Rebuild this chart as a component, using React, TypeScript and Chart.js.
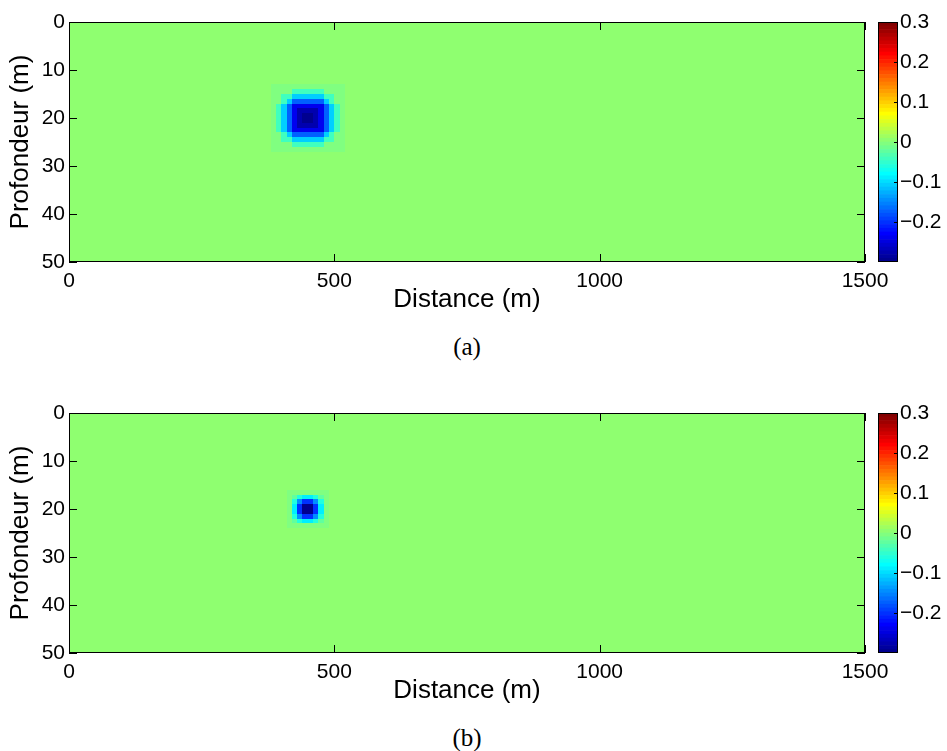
import React, { useEffect, useRef } from "react";
import { Chart, registerables } from "chart.js";

Chart.register(...registerables);

// ---------------- data ----------------
const X_TICKS = [0, 500, 1000, 1500];
const Z_TICKS = [0, 10, 20, 30, 40, 50];
const CBAR_TICKS = [-0.2, -0.1, 0, 0.1, 0.2, 0.3];
const C_MIN = -0.3;
const C_MAX = 0.3;
const X_RANGE = [0, 1500];
const Z_RANGE = [0, 50];
const FIELD_VALUE = 0; // homogeneous background value
const CELL_DX = 10; // m
const CELL_DZ = 1; // m

// (a) anomaly: cells start at x = 380 m, z = 13 m
const ANOM_A_X0 = 380;
const ANOM_A_Z0 = 13;
const ANOM_A = [
  [-0.006, -0.006, -0.006, -0.006, -0.006, -0.006, -0.006, -0.006, -0.006, -0.006, -0.006, -0.006, -0.006, -0.006],
  [-0.006, -0.006, -0.006, -0.006, -0.045, -0.045, -0.045, -0.045, -0.045, -0.045, -0.006, -0.006, -0.006, -0.006],
  [-0.006, -0.006, -0.045, -0.045, -0.110, -0.110, -0.110, -0.110, -0.110, -0.110, -0.045, -0.045, -0.006, -0.006],
  [-0.006, -0.006, -0.045, -0.110, -0.175, -0.175, -0.175, -0.175, -0.175, -0.175, -0.110, -0.045, -0.006, -0.006],
  [-0.006, -0.045, -0.110, -0.175, -0.235, -0.235, -0.235, -0.235, -0.235, -0.235, -0.175, -0.110, -0.045, -0.006],
  [-0.006, -0.045, -0.110, -0.175, -0.235, -0.275, -0.275, -0.275, -0.275, -0.235, -0.175, -0.110, -0.045, -0.006],
  [-0.006, -0.045, -0.110, -0.175, -0.235, -0.275, -0.295, -0.295, -0.275, -0.235, -0.175, -0.110, -0.045, -0.006],
  [-0.006, -0.045, -0.110, -0.175, -0.235, -0.275, -0.295, -0.295, -0.275, -0.235, -0.175, -0.110, -0.045, -0.006],
  [-0.006, -0.045, -0.110, -0.175, -0.235, -0.275, -0.275, -0.275, -0.275, -0.235, -0.175, -0.110, -0.045, -0.006],
  [-0.006, -0.045, -0.110, -0.175, -0.235, -0.235, -0.235, -0.235, -0.235, -0.235, -0.175, -0.110, -0.045, -0.006],
  [-0.006, -0.006, -0.045, -0.110, -0.175, -0.175, -0.175, -0.175, -0.175, -0.175, -0.110, -0.045, -0.006, -0.006],
  [-0.006, -0.006, -0.045, -0.045, -0.110, -0.110, -0.110, -0.110, -0.110, -0.110, -0.045, -0.045, -0.006, -0.006],
  [-0.006, -0.006, -0.006, -0.006, -0.045, -0.045, -0.045, -0.045, -0.045, -0.045, -0.006, -0.006, -0.006, -0.006],
  [-0.006, -0.006, -0.006, -0.006, -0.006, -0.006, -0.006, -0.006, -0.006, -0.006, -0.006, -0.006, -0.006, -0.006],
];

// (b) anomaly: cells start at x = 410 m, z = 16 m
const ANOM_B_X0 = 410;
const ANOM_B_Z0 = 16;
const ANOM_B = [
  [-0.001, -0.003, -0.006, -0.009, -0.009, -0.006, -0.003, -0.001],
  [-0.003, -0.026, -0.061, -0.087, -0.087, -0.061, -0.026, -0.003],
  [-0.006, -0.061, -0.142, -0.203, -0.203, -0.142, -0.061, -0.006],
  [-0.009, -0.087, -0.203, -0.295, -0.295, -0.203, -0.087, -0.009],
  [-0.009, -0.087, -0.203, -0.295, -0.295, -0.203, -0.087, -0.009],
  [-0.006, -0.061, -0.142, -0.203, -0.203, -0.142, -0.061, -0.006],
  [-0.003, -0.026, -0.061, -0.087, -0.087, -0.061, -0.026, -0.003],
  [-0.001, -0.003, -0.006, -0.009, -0.009, -0.006, -0.003, -0.001],
];

// ---------------- colour map (MATLAB jet, 64 levels) ----------------
const N_COLORS = 64;
function jetU(i: number): number {
  if (i < 1 || i > 47) return 0;
  if (i <= 16) return i / 16;
  if (i <= 31) return 1;
  return (48 - i) / 16;
}
function jetRow(row: number): string {
  const r = Math.round(255 * jetU(row - 24));
  const g = Math.round(255 * jetU(row - 8));
  const b = Math.round(255 * jetU(row + 8));
  return `rgb(${r},${g},${b})`;
}
function jetColor(v: number): string {
  let idx = Math.floor(((v - C_MIN) / (C_MAX - C_MIN)) * N_COLORS);
  if (idx < 0) idx = 0;
  if (idx > N_COLORS - 1) idx = N_COLORS - 1;
  return jetRow(idx + 1);
}

const SANS = '"Liberation Sans", Arial, Helvetica, sans-serif';
const TICK_SIZE = 21;
const LABEL_SIZE = 26;

function makeHeatmapPlugin(cells: number[][], x0: number, z0: number) {
  return {
    id: "heatmap",
    beforeDatasetsDraw(chart: any) {
      const { ctx, chartArea: a } = chart;
      const xs = chart.scales.x;
      const ys = chart.scales.y;
      const px = (v: number) => Math.round(xs.getPixelForValue(v));
      const py = (v: number) => Math.round(ys.getPixelForValue(v));
      ctx.save();
      ctx.beginPath();
      ctx.rect(a.left, a.top, a.right - a.left, a.bottom - a.top);
      ctx.clip();
      const fill = (xa: number, xb: number, za: number, zb: number, v: number) => {
        const X1 = px(xa), X2 = px(xb), Y1 = py(za), Y2 = py(zb);
        ctx.fillStyle = jetColor(v);
        ctx.fillRect(Math.min(X1, X2), Math.min(Y1, Y2), Math.abs(X2 - X1), Math.abs(Y2 - Y1));
      };
      fill(X_RANGE[0], X_RANGE[1], Z_RANGE[0], Z_RANGE[1], FIELD_VALUE);
      cells.forEach((row, j) => {
        row.forEach((v, i) => {
          fill(x0 + i * CELL_DX, x0 + (i + 1) * CELL_DX, z0 + j * CELL_DZ, z0 + (j + 1) * CELL_DZ, v);
        });
      });
      ctx.restore();
    },
  };
}

const frameMainPlugin = {
  id: "frameMain",
  afterDraw(chart: any) {
    const { ctx, chartArea: a } = chart;
    const xs = chart.scales.x;
    const ys = chart.scales.y;
    const L = 8;
    ctx.save();
    ctx.strokeStyle = "#000";
    ctx.lineWidth = 1;
    ctx.beginPath();
    X_TICKS.forEach((v) => {
      const p = Math.round(xs.getPixelForValue(v)) + 0.5;
      ctx.moveTo(p, a.bottom);
      ctx.lineTo(p, a.bottom - L);
      ctx.moveTo(p, a.top);
      ctx.lineTo(p, a.top + L);
    });
    Z_TICKS.forEach((v) => {
      const p = Math.round(ys.getPixelForValue(v)) + 0.5;
      ctx.moveTo(a.left, p);
      ctx.lineTo(a.left + L, p);
      ctx.moveTo(a.right, p);
      ctx.lineTo(a.right - L, p);
    });
    ctx.stroke();
    ctx.strokeRect(a.left + 0.5, a.top + 0.5, a.right - a.left - 1, a.bottom - a.top - 1);
    ctx.restore();
  },
};

const frameBarPlugin = {
  id: "frameBar",
  afterDraw(chart: any) {
    const { ctx, chartArea: a } = chart;
    const ys = chart.scales.y;
    ctx.save();
    ctx.strokeStyle = "#000";
    ctx.lineWidth = 1;
    ctx.beginPath();
    CBAR_TICKS.forEach((v) => {
      const p = Math.round(ys.getPixelForValue(v)) + 0.5;
      ctx.moveTo(a.right, p);
      ctx.lineTo(a.right - 4, p);
    });
    ctx.stroke();
    ctx.strokeRect(a.left + 0.5, a.top + 0.5, a.right - a.left - 1, a.bottom - a.top - 1);
    ctx.restore();
  },
};

function mainConfig(cells: number[][], x0: number, z0: number): any {
  return {
    type: "scatter",
    data: { datasets: [] },
    options: {
      animation: false,
      responsive: false,
      maintainAspectRatio: false,
      events: [],
      layout: { padding: { left: 0, top: 22, right: 82, bottom: 7 } },
      plugins: { legend: { display: false }, tooltip: { enabled: false } },
      scales: {
        x: {
          type: "linear",
          position: "bottom",
          min: X_RANGE[0],
          max: X_RANGE[1],
          afterBuildTicks: (s: any) => {
            s.ticks = X_TICKS.map((v) => ({ value: v }));
          },
          ticks: {
            color: "#000",
            font: { family: SANS, size: TICK_SIZE },
            padding: 7,
            maxRotation: 0,
            autoSkip: false,
            callback: (v: any) => String(v),
          },
          grid: { display: false, drawTicks: false },
          border: { display: false },
          title: {
            display: true,
            text: "Distance (m)",
            color: "#000",
            font: { family: SANS, size: LABEL_SIZE, lineHeight: 1 },
            padding: { top: 0, bottom: 0 },
          },
          afterFit: (s: any) => {
            s.height = 51;
          },
        },
        y: {
          type: "linear",
          position: "left",
          reverse: true,
          min: Z_RANGE[0],
          max: Z_RANGE[1],
          afterBuildTicks: (s: any) => {
            s.ticks = Z_TICKS.map((v) => ({ value: v }));
          },
          ticks: {
            color: "#000",
            font: { family: SANS, size: TICK_SIZE },
            padding: 4,
            autoSkip: false,
            callback: (v: any) => String(v),
          },
          grid: { display: false, drawTicks: false },
          border: { display: false },
          title: {
            display: true,
            text: "Profondeur (m)",
            color: "#000",
            font: { family: SANS, size: LABEL_SIZE, lineHeight: 1 },
            padding: { top: 8, bottom: 0 },
          },
          afterFit: (s: any) => {
            s.width = 69;
          },
        },
      },
    },
    plugins: [makeHeatmapPlugin(cells, x0, z0), frameMainPlugin],
  };
}

function colorbarConfig(): any {
  const step = (C_MAX - C_MIN) / N_COLORS;
  const datasets = [];
  for (let k = 0; k < N_COLORS; k++) {
    datasets.push({
      data: [[C_MIN + k * step, C_MIN + (k + 1) * step]],
      backgroundColor: jetRow(k + 1),
      borderWidth: 0,
      grouped: false,
      barPercentage: 1,
      categoryPercentage: 1,
    });
  }
  return {
    type: "bar",
    data: { labels: ["colorbar"], datasets },
    options: {
      animation: false,
      responsive: false,
      maintainAspectRatio: false,
      events: [],
      layout: { padding: { left: 878, top: 22, right: 0, bottom: 58 } },
      plugins: { legend: { display: false }, tooltip: { enabled: false } },
      scales: {
        x: { display: false },
        y: {
          type: "linear",
          position: "right",
          min: C_MIN,
          max: C_MAX,
          afterBuildTicks: (s: any) => {
            s.ticks = CBAR_TICKS.map((v) => ({ value: v }));
          },
          ticks: {
            color: "#000",
            font: { family: SANS, size: TICK_SIZE },
            padding: 2,
            autoSkip: false,
            callback: (v: any) => (v < 0 ? "\u2212" + String(Math.abs(v)) : String(v)),
          },
          grid: { display: false, drawTicks: false },
          border: { display: false },
          afterFit: (s: any) => {
            s.width = 49;
          },
        },
      },
    },
    plugins: [frameBarPlugin],
  };
}

const W = 947;
const H = 320;

export default function App() {
  const a1 = useRef<HTMLCanvasElement>(null);
  const a2 = useRef<HTMLCanvasElement>(null);
  const b1 = useRef<HTMLCanvasElement>(null);
  const b2 = useRef<HTMLCanvasElement>(null);

  useEffect(() => {
    const charts = [
      new Chart(a1.current as HTMLCanvasElement, mainConfig(ANOM_A, ANOM_A_X0, ANOM_A_Z0)),
      new Chart(a2.current as HTMLCanvasElement, colorbarConfig()),
      new Chart(b1.current as HTMLCanvasElement, mainConfig(ANOM_B, ANOM_B_X0, ANOM_B_Z0)),
      new Chart(b2.current as HTMLCanvasElement, colorbarConfig()),
    ];
    return () => charts.forEach((c) => c.destroy());
  }, []);

  const cv = (top: number): React.CSSProperties => ({
    position: "absolute",
    left: 0,
    top,
    width: W,
    height: H,
  });
  const cap = (top: number): React.CSSProperties => ({
    position: "absolute",
    left: 367,
    width: 200,
    top,
    height: 30,
    lineHeight: "30px",
    textAlign: "center",
    fontFamily: '"Liberation Serif", "DejaVu Serif", serif',
    fontSize: 25,
    color: "#000",
  });

  return (
    <div style={{ position: "absolute", left: 0, top: 0, width: W, height: 751, background: "#fff", overflow: "hidden" }}>
      <canvas ref={a1} width={W} height={H} style={cv(0)} />
      <canvas ref={a2} width={W} height={H} style={cv(0)} />
      <canvas ref={b1} width={W} height={H} style={cv(391)} />
      <canvas ref={b2} width={W} height={H} style={cv(391)} />
      <div style={cap(332)}>(a)</div>
      <div style={cap(723)}>(b)</div>
    </div>
  );
}
